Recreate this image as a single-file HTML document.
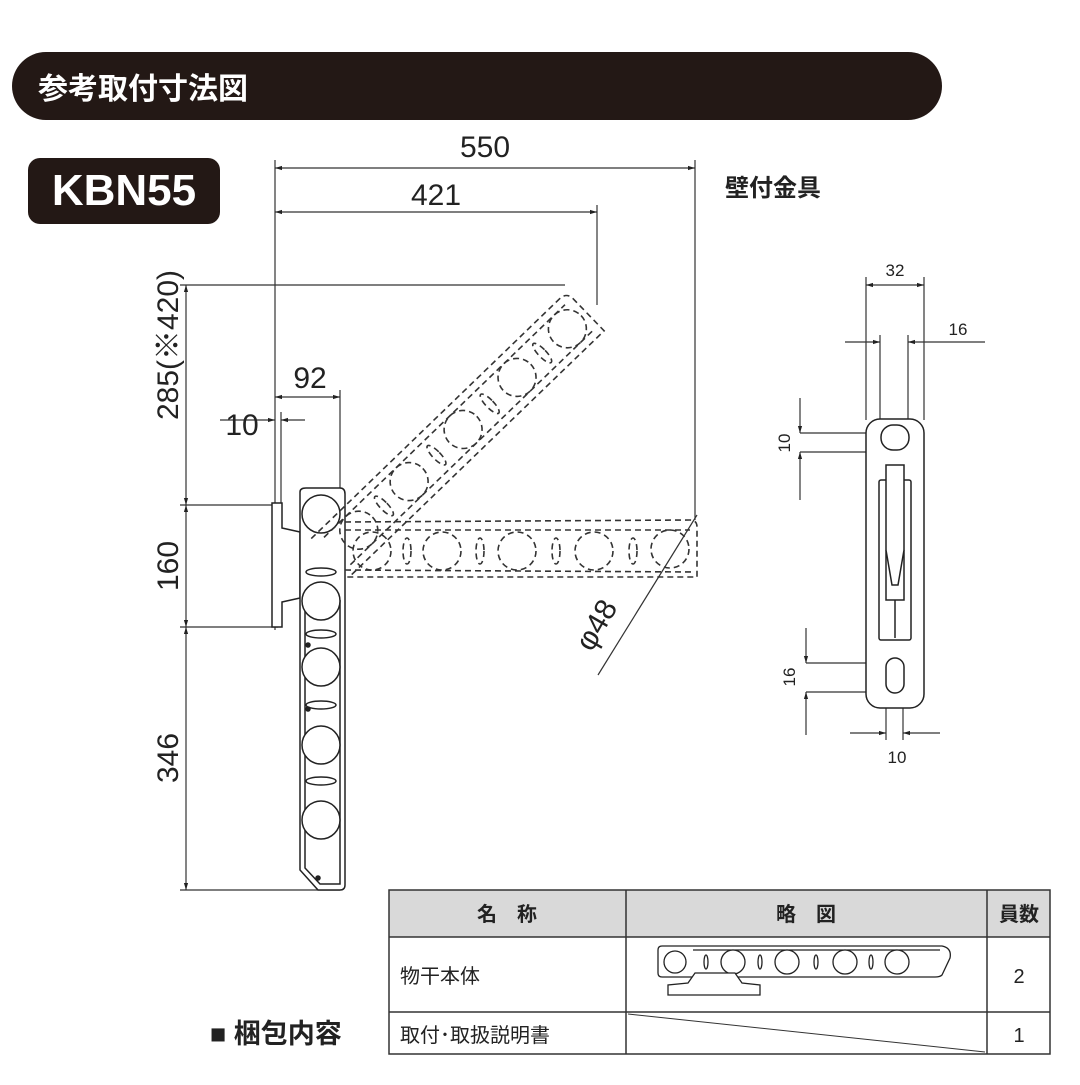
<!DOCTYPE html>
<html><head><meta charset="utf-8"><style>
html,body{margin:0;padding:0;background:#fff}
svg text{font-family:"Liberation Sans","Noto Sans CJK JP",sans-serif}
</style></head><body>
<svg width="1080" height="1080" viewBox="0 0 1080 1080" xmlns="http://www.w3.org/2000/svg">
<defs>
<marker id="a" viewBox="0 0 10 10" refX="10" refY="5" markerWidth="6" markerHeight="6" orient="auto-start-reverse"><path d="M0,2 L10,5 L0,8z" fill="#222"/></marker>
</defs>
<rect x="12" y="52" width="930" height="68" rx="34" fill="#231815"/>
<text x="38" y="99" font-size="30" fill="#fff" font-weight="bold">参考取付寸法図</text>
<rect x="28" y="158" width="192" height="66" rx="12" fill="#231815"/>
<text x="124" y="205" font-size="44" fill="#fff" font-weight="bold" text-anchor="middle">KBN55</text>

<g stroke="#333" stroke-width="1.2" fill="none">
<line x1="275" y1="160" x2="275" y2="630"/>
<line x1="695" y1="160" x2="695" y2="520"/>
<line x1="597" y1="205" x2="597" y2="305"/>
<line x1="275" y1="168" x2="695" y2="168" marker-start="url(#a)" marker-end="url(#a)"/>
<line x1="275" y1="212" x2="597" y2="212" marker-start="url(#a)" marker-end="url(#a)"/>
<line x1="186" y1="285" x2="186" y2="505" marker-start="url(#a)" marker-end="url(#a)"/>
<line x1="186" y1="505" x2="186" y2="627" marker-start="url(#a)" marker-end="url(#a)"/>
<line x1="186" y1="627" x2="186" y2="890" marker-start="url(#a)" marker-end="url(#a)"/>
<line x1="180" y1="285" x2="565" y2="285"/>
<line x1="180" y1="505" x2="278" y2="505"/>
<line x1="180" y1="627" x2="278" y2="627"/>
<line x1="180" y1="890" x2="340" y2="890"/>
<line x1="340" y1="390" x2="340" y2="505"/>
<line x1="275" y1="397" x2="340" y2="397" marker-start="url(#a)" marker-end="url(#a)"/>
<line x1="281" y1="412" x2="281" y2="505"/>
<line x1="220" y1="420" x2="275" y2="420" marker-end="url(#a)"/>
<line x1="305" y1="420" x2="281" y2="420" marker-end="url(#a)"/>
<line x1="697" y1="515" x2="598" y2="675"/>
</g>
<g font-size="30" fill="#222">
<text x="485" y="157" text-anchor="middle">550</text>
<text x="436" y="205" text-anchor="middle">421</text>
<text x="310" y="388" text-anchor="middle">92</text>
<text x="242" y="435" text-anchor="middle">10</text>
<text transform="translate(178,345) rotate(-90)" text-anchor="middle">285(※420)</text>
<text transform="translate(178,566) rotate(-90)" text-anchor="middle">160</text>
<text transform="translate(178,758) rotate(-90)" text-anchor="middle">346</text>
<text transform="translate(605,630) rotate(-60)" text-anchor="middle">φ48</text>
</g>

<g stroke="#222" stroke-width="1.5" fill="#fff">
<path d="M272,503 L282,503 L282,528 L300,532 L300,598 L282,602 L282,627 L272,627 Z"/>
<path d="M300,532 L320,530 L320,600 L300,598"/>
<path d="M300,492 Q300,488 306,488 L340,488 Q345,488 345,494 L345,885 Q345,890 340,890 L318,890 L300,870 Z"/>
<path d="M305,600 L305,868 L320,884 L340,884 L340,600"/>
</g>
<g stroke="#222" stroke-width="1.5" fill="#fff">
<circle cx="321" cy="514" r="19"/>
<circle cx="321" cy="601" r="19"/>
<circle cx="321" cy="667" r="19"/>
<circle cx="321" cy="745" r="19"/>
<circle cx="321" cy="820" r="19"/>
<ellipse cx="321" cy="572" rx="15" ry="4"/>
<ellipse cx="321" cy="634" rx="15" ry="4"/>
<ellipse cx="321" cy="705" rx="15" ry="4"/>
<ellipse cx="321" cy="781" rx="15" ry="4"/>
<circle cx="308" cy="645" r="2" fill="#222"/>
<circle cx="308" cy="709" r="2" fill="#222"/>
<circle cx="318" cy="878" r="2" fill="#222"/>
</g>
<g stroke="#333" stroke-width="1.6" fill="none" stroke-dasharray="6,4">
<path d="M345,522 L690,520 Q697,520 697,527 L697,577 L345,577"/>
<path d="M345,530 L690,530 M345,570 L695,572"/>
<circle cx="372" cy="551" r="19"/><circle cx="442" cy="551" r="19"/><circle cx="517" cy="551" r="19"/><circle cx="594" cy="551" r="19"/><circle cx="670" cy="549" r="19"/>
<ellipse cx="407" cy="551" rx="4" ry="13"/><ellipse cx="480" cy="551" rx="4" ry="13"/><ellipse cx="556" cy="551" rx="4" ry="13"/><ellipse cx="633" cy="551" rx="4" ry="13"/>
</g>
<g transform="translate(330,558) rotate(-44)" stroke="#333" stroke-width="1.6" fill="none" stroke-dasharray="6,4">
<path d="M0,-27 L345,-27 Q355,-27 355,-17 L355,27 L0,27"/>
<path d="M10,-19 L345,-19 M10,19 L350,19"/>
<circle cx="40" cy="0" r="19"/><circle cx="110" cy="0" r="19"/><circle cx="185" cy="0" r="19"/><circle cx="260" cy="0" r="19"/><circle cx="330" cy="0" r="19"/>
<ellipse cx="75" cy="0" rx="4" ry="13"/><ellipse cx="148" cy="0" rx="4" ry="13"/><ellipse cx="222" cy="0" rx="4" ry="13"/><ellipse cx="295" cy="0" rx="4" ry="13"/>
</g>

<text x="725" y="196" font-size="24" font-weight="bold" fill="#222">壁付金具</text>
<g stroke="#333" stroke-width="1.2" fill="none">
<line x1="866" y1="277" x2="866" y2="420"/><line x1="924" y1="277" x2="924" y2="420"/>
<line x1="866" y1="285" x2="924" y2="285" marker-start="url(#a)" marker-end="url(#a)"/>
<line x1="880" y1="335" x2="880" y2="430"/><line x1="908" y1="335" x2="908" y2="430"/>
<line x1="845" y1="342" x2="880" y2="342" marker-end="url(#a)"/>
<line x1="985" y1="342" x2="908" y2="342" marker-end="url(#a)"/>
<line x1="800" y1="398" x2="800" y2="433" marker-end="url(#a)"/>
<line x1="800" y1="500" x2="800" y2="452" marker-end="url(#a)"/>
<line x1="800" y1="433" x2="884" y2="433"/><line x1="800" y1="452" x2="884" y2="452"/>
<line x1="806" y1="628" x2="806" y2="663" marker-end="url(#a)"/>
<line x1="806" y1="735" x2="806" y2="692" marker-end="url(#a)"/>
<line x1="806" y1="663" x2="890" y2="663"/><line x1="806" y1="692" x2="890" y2="692"/>
<line x1="886" y1="690" x2="886" y2="740"/><line x1="903" y1="690" x2="903" y2="740"/>
<line x1="850" y1="733" x2="886" y2="733" marker-end="url(#a)"/>
<line x1="940" y1="733" x2="903" y2="733" marker-end="url(#a)"/>
</g>
<g font-size="17" fill="#222">
<text x="895" y="276" text-anchor="middle">32</text>
<text x="958" y="335" text-anchor="middle">16</text>
<text x="897" y="763" text-anchor="middle">10</text>
<text transform="translate(790,443) rotate(-90)" text-anchor="middle">10</text>
<text transform="translate(795,677) rotate(-90)" text-anchor="middle">16</text>
</g>
<g stroke="#222" stroke-width="1.5" fill="#fff">
<rect x="866" y="419" width="58" height="289" rx="14"/>
<rect x="881" y="425" width="28" height="25" rx="12"/>
<rect x="886" y="658" width="18" height="35" rx="9"/>
<rect x="879" y="480" width="32" height="160" rx="2"/>
<path d="M886,465 L904,465 L904,600 L886,600 Z"/>
<path d="M886,550 L892,585 L898,585 L904,550"/>
<line x1="895" y1="600" x2="895" y2="638"/>
</g>

<text x="210" y="1043" font-size="27" font-weight="bold" fill="#222">■ 梱包内容</text>
<rect x="389" y="890" width="661" height="47" fill="#d9d9d9"/>
<g stroke="#333" stroke-width="1.5" fill="none">
<rect x="389" y="890" width="661" height="164"/>
<line x1="389" y1="937" x2="1050" y2="937"/>
<line x1="389" y1="1012" x2="1050" y2="1012"/>
<line x1="626" y1="890" x2="626" y2="1054"/>
<line x1="987" y1="890" x2="987" y2="1054"/>
<line x1="628" y1="1014" x2="985" y2="1052" stroke-width="1"/>
</g>
<g font-size="20" fill="#222">
<text x="507" y="921" text-anchor="middle" font-weight="bold">名　称</text>
<text x="806" y="921" text-anchor="middle" font-weight="bold">略　図</text>
<text x="1019" y="921" text-anchor="middle" font-weight="bold">員数</text>
<text x="400" y="983">物干本体</text>
<text x="400" y="1042">取付･取扱説明書</text>
<text x="1019" y="983" text-anchor="middle">2</text>
<text x="1019" y="1042" text-anchor="middle">1</text>
</g>
<g stroke="#222" stroke-width="1.3" fill="#fff">
<path d="M662,946 L942,946 Q952,948 950,958 L942,975 Q940,977 935,977 L662,977 Q658,977 658,973 L658,950 Q658,946 662,946 Z"/>
<line x1="693" y1="950" x2="940" y2="950"/>
<circle cx="675" cy="962" r="11"/><circle cx="733" cy="962" r="12"/><circle cx="787" cy="962" r="12"/><circle cx="845" cy="962" r="12"/><circle cx="897" cy="962" r="12"/>
<ellipse cx="706" cy="962" rx="2" ry="7"/><ellipse cx="760" cy="962" rx="2" ry="7"/><ellipse cx="816" cy="962" rx="2" ry="7"/><ellipse cx="871" cy="962" rx="2" ry="7"/>
<path d="M688,983 L695,973 L735,973 L742,983 L760,985 L760,995 L668,995 L668,985 Z"/>
</g>
</svg>
</body></html>
